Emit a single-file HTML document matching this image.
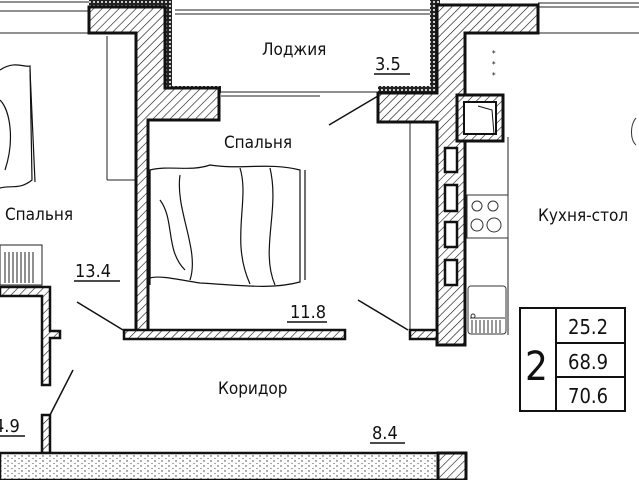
<!DOCTYPE html>
<html><head><meta charset="utf-8"><style>
html,body{margin:0;padding:0;background:#fff;}
svg{display:block;}
text{font-family:"DejaVu Sans Condensed","Liberation Sans",sans-serif;fill:#111;}
</style></head><body>
<svg width="639" height="480" viewBox="0 0 639 480" xmlns="http://www.w3.org/2000/svg">
<defs>
<pattern id="h" width="6" height="6" patternUnits="userSpaceOnUse" patternTransform="rotate(45)">
<rect width="6" height="6" fill="#fff"/><line x1="0" y1="0" x2="0" y2="6" stroke="#111" stroke-width="1.2"/></pattern>
<pattern id="d" width="4" height="4" patternUnits="userSpaceOnUse">
<rect width="4" height="4" fill="#222"/><circle cx="2" cy="2" r="1" fill="#fff"/></pattern>
<pattern id="s" width="7" height="5" patternUnits="userSpaceOnUse">
<rect width="7" height="5" fill="#fff"/><circle cx="1" cy="1" r="0.7" fill="#333"/><circle cx="5" cy="3.5" r="0.6" fill="#555"/></pattern>
</defs>
<!-- thin window/facade lines -->
<g stroke="#222" stroke-width="1" fill="none">
<line x1="0" y1="2" x2="89" y2="2"/><line x1="0" y1="11" x2="89" y2="11"/><line x1="0" y1="33" x2="89" y2="33"/>
<line x1="175" y1="10" x2="432" y2="10"/><line x1="175" y1="14" x2="432" y2="14"/>
<line x1="221" y1="92" x2="378" y2="92"/><line x1="221" y1="96" x2="320" y2="96"/>
<line x1="538" y1="3" x2="639" y2="3"/><line x1="538" y1="7" x2="639" y2="7"/><line x1="538" y1="33" x2="639" y2="33"/>
<line x1="107" y1="36" x2="107" y2="180"/><line x1="107" y1="180" x2="136" y2="180"/>
<line x1="410" y1="122" x2="410" y2="330"/>
<line x1="508" y1="137" x2="508" y2="335"/>
</g>
<!-- dotted insulation -->
<path d="M89,0 H172 V86 H221 V93 H165 V7 H89 Z" fill="url(#d)"/>
<path d="M430,0 H440 V93 H378 V86 H430 Z" fill="url(#d)"/>
<!-- left/top hatched wall -->
<path d="M89,7 H165 V88 H219 V120 H148 V335 H136 V33 H89 Z" fill="url(#h)" stroke="#111" stroke-width="3"/>
<!-- middle wall -->
<path d="M437,5 H538 V33 H465 V345 H437 V122 H378 V93 H437 Z" fill="url(#h)" stroke="#111" stroke-width="3"/>
<!-- flue -->
<rect x="457" y="95" width="46" height="46" fill="url(#h)" stroke="#111" stroke-width="3"/>
<rect x="464" y="102" width="32" height="32" fill="#fff" stroke="#111" stroke-width="2"/>
<path d="M478,106 L492,110 L494,134" fill="none" stroke="#111"/>
<!-- vent slots -->
<g fill="#fff" stroke="#111" stroke-width="2.5">
<rect x="445" y="148" width="12" height="24"/><rect x="445" y="185" width="12" height="26"/>
<rect x="445" y="222" width="12" height="25"/><rect x="445" y="260" width="12" height="25"/>
</g>
<!-- 11.8 wall -->
<rect x="124" y="330" width="221" height="9" fill="url(#h)" stroke="#111" stroke-width="2.5"/>
<rect x="410" y="330" width="27" height="9" fill="url(#h)" stroke="#111" stroke-width="2.5"/>
<!-- left small walls -->
<path d="M0,287 H50 V331 H60 V338 H50 V385 H42 V296 H0 Z" fill="url(#h)" stroke="#111" stroke-width="2.5"/>
<rect x="42" y="415" width="8" height="38" fill="url(#h)" stroke="#111" stroke-width="2.5"/>
<!-- bottom wall -->
<rect x="0" y="453" width="438" height="27" fill="url(#s)" stroke="#111" stroke-width="2.5"/>
<rect x="438" y="453" width="28" height="27" fill="url(#h)" stroke="#111" stroke-width="3"/>
<!-- radiator -->
<g stroke="#222" stroke-width="1" fill="none">
<rect x="0" y="245" width="42" height="40"/>
<path d="M5,252 V283 M9,252 V283 M13,252 V283 M17,252 V283 M21,252 V283 M25,252 V283 M29,252 V283 M33,252 V283"/>
</g>
<!-- beds (sketch) -->
<g stroke="#111" stroke-width="1.2" fill="none">
<path d="M150,170 C170,165 190,172 210,165 C240,170 270,162 300,170 L300,282 C270,290 240,285 200,283 C180,280 160,275 150,278 Z"/>
<path d="M180,175 C175,210 200,250 190,280 M240,168 C250,200 230,240 250,284 M270,168 C280,210 260,250 275,285 M160,200 C175,220 165,250 185,270"/>
<line x1="150" y1="170" x2="150" y2="285"/><line x1="305" y1="170" x2="305" y2="280"/>
<path d="M0,70 C15,60 25,68 30,66 L32,180 C20,190 10,185 0,188"/>
<line x1="30" y1="70" x2="35" y2="182"/>
<path d="M0,100 C10,110 15,140 5,170"/>
</g>
<!-- kitchen items -->
<g stroke="#333" stroke-width="1" fill="none">
<rect x="467" y="195" width="41" height="43"/>
<circle cx="477" cy="206" r="5"/><circle cx="493" cy="206" r="5"/><circle cx="477" cy="225" r="6"/><circle cx="494" cy="225" r="7"/>
<rect x="468" y="286" width="38" height="48" rx="3"/>
<path d="M470,318 H505 M472,320 V333 M476,320 V333 M480,320 V333 M484,320 V333 M488,320 V333 M492,320 V333 M496,320 V333 M500,320 V333"/>
<circle cx="473" cy="316" r="2"/>
<path d="M636,118 C630,125 630,140 636,145"/>
</g>
<text x="492" y="56" font-size="8">*</text><text x="492" y="67" font-size="8">*</text><text x="492" y="78" font-size="8">*</text>
<!-- leaders -->
<g stroke="#111" stroke-width="1.5">
<line x1="329" y1="125" x2="378" y2="96"/>
<line x1="77" y1="302" x2="123" y2="330"/>
<line x1="358" y1="300" x2="408" y2="330"/>
<line x1="73" y1="370" x2="50" y2="415"/>
</g>
<!-- labels -->
<g font-size="17">
<text x="262" y="55">Лоджия</text>
<text x="224" y="148">Спальня</text>
<text x="5" y="220">Спальня</text>
<text x="538" y="221">Кухня-стол</text>
<text x="218" y="394">Коридор</text>
</g>
<g font-size="18">
<text x="375" y="70">3.5</text>
<text x="75" y="277">13.4</text>
<text x="290" y="318">11.8</text>
<text x="372" y="439">8.4</text>
<text x="-6" y="432">4.9</text>
</g>
<g stroke="#111" stroke-width="1.5">
<line x1="374" y1="74" x2="410" y2="74"/><line x1="74" y1="281" x2="120" y2="281"/>
<line x1="287" y1="322" x2="327" y2="322"/><line x1="370" y1="443" x2="405" y2="443"/>
<line x1="0" y1="436" x2="25" y2="436"/>
</g>
<!-- table -->
<g stroke="#111" stroke-width="2" fill="none">
<rect x="520" y="308" width="105" height="103"/>
<line x1="556" y1="308" x2="556" y2="411"/>
<line x1="556" y1="343" x2="625" y2="343"/><line x1="556" y1="377" x2="625" y2="377"/>
</g>
<text x="525" y="380" font-size="40" font-weight="300">2</text>
<g font-size="20"><text x="568" y="334">25.2</text><text x="568" y="369">68.9</text><text x="568" y="403">70.6</text></g>
</svg>
</body></html>
